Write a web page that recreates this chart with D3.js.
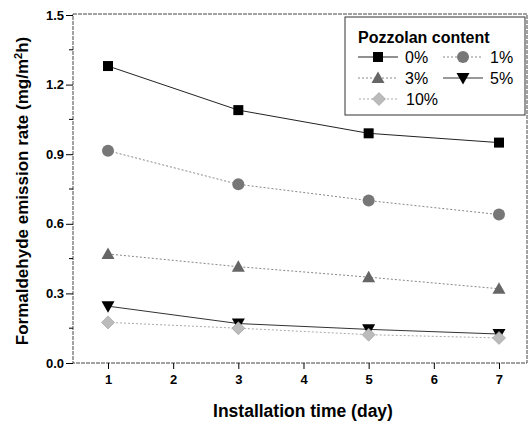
<!DOCTYPE html>
<html>
<head>
<meta charset="utf-8">
<script src="https://cdn.jsdelivr.net/npm/d3@7"></script>
<style>
  body { margin: 0; background: #fff; }
  svg { font-family: "Liberation Sans", Arial, sans-serif; }
</style>
</head>
<body>
<svg id="chart" width="529" height="424"></svg>
<script>
// data
const days = [1, 3, 5, 7]
const seriesNames = ["0%", "1%", "3%", "5%", "10%"]
const pct0 = [1.28, 1.09, 0.99, 0.95]
const pct1 = [0.915, 0.77, 0.70, 0.64]
const pct3 = [0.47, 0.415, 0.37, 0.32]
const pct5 = [0.245, 0.17, 0.145, 0.125]
const pct10 = [0.175, 0.15, 0.122, 0.108]
const xTicks = [1, 2, 3, 4, 5, 6, 7]
const yTicks = [0, 0.3, 0.6, 0.9, 1.2, 1.5]
const yMinor = [0.15, 0.45, 0.75, 1.05, 1.35]

const seriesValues = [pct0, pct1, pct3, pct5, pct10]
const styles = [
    { shape: "square", fill: "#000", line: "#222", dash: null },
    { shape: "circle", fill: "#777", line: "#888", dash: "2,2" },
    { shape: "triangle", fill: "#666", line: "#888", dash: "2,2" },
    { shape: "down", fill: "#000", line: "#333", dash: null },
    { shape: "diamond", fill: "#bbb", line: "#aaa", dash: "2,2" }
]

const svg = d3.select("#chart")
const plotLeft = 73, plotRight = 527, plotTop = 14, plotBottom = 363

const x = d3.scaleLinear().domain([0.463, 7.43]).range([plotLeft, plotRight])
const y = d3.scaleLinear().domain([0, 1.5]).range([plotBottom, 15])

const markerPath = (shape) => {
    if (shape === "square") return "M-5,-5H5V5H-5Z"
    if (shape === "circle") return "M-6,0A6,6 0 1,0 6,0A6,6 0 1,0 -6,0Z"
    if (shape === "triangle") return "M0,-6.5L6.5,5H-6.5Z"
    if (shape === "down") return "M0,6.5L6.5,-5H-6.5Z"
    return "M0,-6.5L6.5,0L0,6.5L-6.5,0Z"
}

// frame
svg.append("rect")
    .attr("x", plotLeft).attr("y", plotTop)
    .attr("width", plotRight - plotLeft).attr("height", plotBottom - plotTop)
    .attr("fill", "none").attr("stroke", "#444").attr("stroke-width", 1)
    .attr("stroke-dasharray", "4,1")

// axes
const xAxis = d3.axisBottom(x).tickValues(xTicks).tickSize(6).tickFormat(d3.format("d"))
const gx = svg.append("g").attr("transform", `translate(0,${plotBottom})`).call(xAxis)
gx.select(".domain").remove()
gx.selectAll("text").attr("font-size", 13).attr("font-weight", "bold").attr("y", 12).attr("dy", "0.71em")

const yAxis = d3.axisLeft(y).tickValues(yTicks).tickSize(7).tickFormat(d3.format(".1f"))
const gy = svg.append("g").attr("transform", `translate(${plotLeft},0)`).call(yAxis)
gy.select(".domain").remove()
gy.selectAll("text").attr("font-size", 13).attr("font-weight", "bold").attr("x", -9)

svg.append("g").selectAll("line").data(yMinor).join("line")
    .attr("x1", plotLeft - 4).attr("x2", plotLeft)
    .attr("y1", d => y(d)).attr("y2", d => y(d))
    .attr("stroke", "#000")

// axis titles
svg.append("text")
    .attr("x", 303).attr("y", 417)
    .attr("text-anchor", "middle")
    .attr("font-size", 17.5).attr("font-weight", "bold")
    .text("Installation time (day)")

const yt = svg.append("text")
    .attr("transform", "translate(28,191) rotate(-90)")
    .attr("text-anchor", "middle")
    .attr("font-size", 17).attr("font-weight", "bold")
yt.append("tspan").text("Formaldehyde emission rate (mg/m")
yt.append("tspan").attr("font-size", 11).attr("dy", -6).text("2")
yt.append("tspan").attr("dy", 6).text("h)")

// series
const line = d3.line().x((d, i) => x(days[i])).y(d => y(d))
seriesValues.forEach((vals, k) => {
    const st = styles[k]
    svg.append("path")
        .attr("d", line(vals))
        .attr("fill", "none")
        .attr("stroke", st.line).attr("stroke-width", 1)
        .attr("stroke-dasharray", st.dash)
    svg.append("g").selectAll("path").data(vals).join("path")
        .attr("transform", (d, i) => `translate(${x(days[i])},${y(d)})`)
        .attr("d", markerPath(st.shape))
        .attr("fill", st.fill)
        .attr("stroke", k === 4 ? "#999" : "none")
        .attr("stroke-width", 0.6)
})

// legend
const lg = svg.append("g")
lg.append("rect")
    .attr("x", 345).attr("y", 17).attr("width", 180).attr("height", 98)
    .attr("fill", "#fff").attr("stroke", "#333").attr("stroke-width", 1)
lg.append("text")
    .attr("x", 358).attr("y", 43)
    .attr("font-size", 16).attr("font-weight", "bold")
    .text("Pozzolan content")

const legendPos = [[378, 57], [463, 57], [378, 78], [463, 78], [379, 99]]
seriesNames.forEach((name, k) => {
    const st = styles[k]
    const [cx, cy] = legendPos[k]
    lg.append("line")
        .attr("x1", cx - 20).attr("x2", cx + 20)
        .attr("y1", cy).attr("y2", cy)
        .attr("stroke", st.line).attr("stroke-width", 1)
        .attr("stroke-dasharray", st.dash)
    lg.append("path")
        .attr("transform", `translate(${cx},${cy})`)
        .attr("d", markerPath(st.shape))
        .attr("fill", st.fill)
        .attr("stroke", k === 4 ? "#999" : "none")
        .attr("stroke-width", 0.6)
    lg.append("text")
        .attr("x", cx + 27).attr("y", cy + 6)
        .attr("font-size", 16)
        .text(name)
})
</script>
</body>
</html>
